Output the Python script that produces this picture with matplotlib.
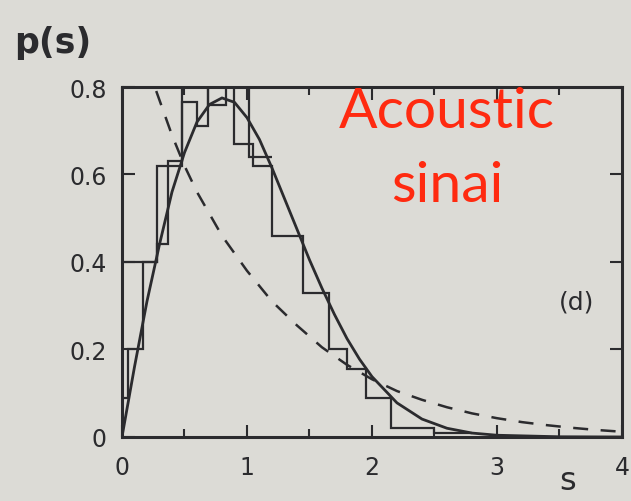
import matplotlib
matplotlib.use("Agg")
import matplotlib.pyplot as plt
import numpy as np

# Solid (Wigner-like) curve
wig_s = [0.0, 0.1, 0.2, 0.3, 0.4, 0.5, 0.6, 0.7, 0.8, 0.9, 1.0, 1.1, 1.2, 1.3, 1.4,
         1.5, 1.6, 1.7, 1.8, 1.9, 2.0, 2.2, 2.4, 2.6, 2.8, 3.0, 3.5, 4.0]
wig_p = [0.0, 0.16, 0.31, 0.44, 0.56, 0.65, 0.72, 0.76, 0.775, 0.765, 0.73, 0.68, 0.615,
         0.545, 0.475, 0.405, 0.34, 0.28, 0.225, 0.178, 0.138, 0.078, 0.041, 0.02, 0.009,
         0.004, 0.0005, 0.0]

# Dashed (Poisson-like) curve
poi_s = [0.2, 0.3, 0.4, 0.5, 0.6, 0.7, 0.8, 0.9, 1.0, 1.2, 1.4, 1.6, 1.8, 2.0, 2.2,
         2.4, 2.6, 2.8, 3.0, 3.2, 3.4, 3.6, 3.8, 4.0]
poi_p = [0.85, 0.77, 0.69, 0.62, 0.56, 0.51, 0.46, 0.42, 0.38, 0.31, 0.255, 0.205, 0.165,
         0.132, 0.105, 0.085, 0.068, 0.054, 0.043, 0.034, 0.027, 0.021, 0.016, 0.012]

# Histogram 1 (fine)
h1_edges = [0.0, 0.05, 0.17, 0.28, 0.37, 0.48, 0.6, 0.69, 0.9, 1.05, 1.2, 1.45, 1.66,
            1.8, 1.95, 2.15, 2.5, 2.8]
h1_vals = [0.09, 0.2, 0.4, 0.44, 0.63, 0.765, 0.71, 0.82, 0.67, 0.62, 0.46, 0.33, 0.2,
           0.155, 0.09, 0.02, 0.008]

# Histogram 2 (coarse)
h2_edges = [0.0, 0.28, 0.48, 0.69, 0.83, 1.02, 1.2]
h2_vals = [0.4, 0.62, 0.9, 0.76, 0.9, 0.64]

xticks = [0, 1, 2, 3, 4]
yticks = [0, 0.2, 0.4, 0.6, 0.8]
ytick_labels = ["0", "0.2", "0.4", "0.6", "0.8"]

bg = "#dcdbd6"
ink = "#2b2b2e"

fig = plt.figure(figsize=(6.31, 5.02), dpi=100, facecolor=bg)
ax = fig.add_axes([0.1933, 0.1275, 0.7924, 0.6972])
ax.set_facecolor(bg)

ax.stairs(h1_vals, h1_edges, color=ink, lw=1.6, baseline=None)
ax.stairs(h2_vals, h2_edges, color=ink, lw=1.6, baseline=None)
ax.plot(wig_s, wig_p, color=ink, lw=2.0)
ax.plot(poi_s, poi_p, color=ink, lw=1.8, dashes=(6, 5))

ax.set_xlim(0, 4)
ax.set_ylim(0, 0.8)
ax.set_xticks(xticks)
ax.set_xticklabels([str(t) for t in xticks])
ax.set_yticks(yticks)
ax.set_yticklabels(ytick_labels)
ax.set_xticks(np.arange(0.5, 4, 1.0), minor=True)
ax.tick_params(axis="both", which="both", direction="in", top=True, right=True,
               colors=ink, labelsize=17, width=1.5)
ax.tick_params(which="major", length=9)
ax.tick_params(which="minor", length=6)
ax.tick_params(axis="x", pad=13)
ax.tick_params(axis="y", pad=11)
for sp in ax.spines.values():
    sp.set_color(ink)
    sp.set_linewidth(2.2)

fig.text(0.022, 0.915, "p(s)", fontsize=25, color=ink, ha="left", va="center",
         fontweight="bold")
fig.text(0.900, 0.04, "s", fontsize=23, color=ink, ha="center", va="center")
ax.text(3.64, 0.31, "(d)", fontsize=18, color=ink, ha="center", va="center")

ax.text(2.6, 0.745, "Acoustic", fontsize=41, color="#ff2a10", family="Lato",
        ha="center", va="center")
ax.text(2.6, 0.575, "sinai", fontsize=41, color="#ff2a10", family="Lato",
        ha="center", va="center")

fig.savefig("out.png", dpi=100, facecolor=bg)
